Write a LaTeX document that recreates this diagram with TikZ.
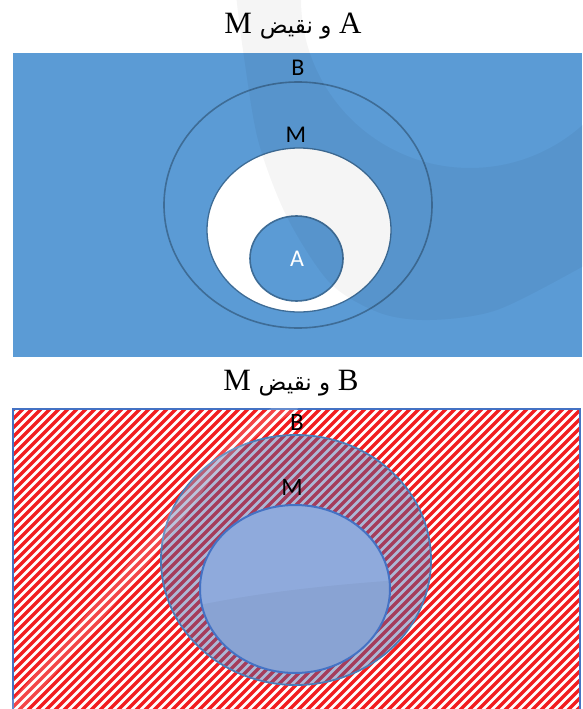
\documentclass[tikz,border=0pt]{standalone}
\usepackage{fontspec}
\setmainfont{Liberation Serif}
\newfontfamily\arabicfont[Script=Arabic]{DejaVu Sans}
\newfontfamily\labelfont{Carlito}
\TeXXeTstate=1
\definecolor{topblue}{RGB}{91,155,213}
\definecolor{tborder}{RGB}{62,108,150}
\definecolor{bborder}{RGB}{68,114,196}
\definecolor{bcircle}{RGB}{74,124,184}
\definecolor{bover}{RGB}{72,98,165}
\definecolor{mfill}{RGB}{143,170,220}
\definecolor{stripered}{RGB}{242,30,32}
\begin{document}
\begin{tikzpicture}[x=1pt,y=-1pt,
  lab/.style={font=\labelfont\fontsize{24}{28}\selectfont, inner sep=0pt},
  blab/.style={font=\labelfont\fontsize{25}{29}\selectfont, inner sep=0pt},
  ttl/.style={font=\fontsize{31}{36}\selectfont, inner sep=0pt, anchor=base},
  tline/.style={draw=tborder, line width=1.6pt},
  stripe/.style={draw=stripered, line width=3.3pt},
]
\useasboundingbox (0,0) rectangle (582,709);
\fill[white] (0,0) rectangle (582,709);

% ---------- top panel ----------
\fill[topblue] (13,53) rectangle (582,357);
\draw[tline] (298,205) ellipse [x radius=134, y radius=123];
\filldraw[fill=white, tline, line width=1.3pt] (299,230) ellipse [x radius=92, y radius=82];
\filldraw[fill=topblue, tline] (296.5,258.5) ellipse [x radius=46.5, y radius=42.5];
\node[lab] (Bt) at (298,68) {B};
\node[lab] (Mt) at (296,135) {M};
\node[lab, text=white] (At) at (297,259) {A};
% watermark ring
\fill[black, opacity=0.04, even odd rule]
  plot[smooth] coordinates {(236,-5) (243,50) (258,140) (287,217) (330,283) (380,313) (430,320) (497,310) (582,267) (600,255)}
  -- (600,-5) -- cycle
  (470,-1) circle [radius=169];
\node[ttl] (t1) at (293,34) {\beginR{A} {\arabicfont\fontsize{23}{27}\selectfont و نقيض} {M}\endR};

% ---------- bottom panel ----------
\begin{scope}
  \clip (13,409) rectangle (580,712);
  \foreach \c in {-310,-301,...,600} \draw[stripe] (\c,715) -- ++(430,-430);
\end{scope}
\draw[draw=bborder, line width=1.6pt] (13,712) -- (13,409) -- (580,409) -- (580,712);
\filldraw[fill=bover, fill opacity=0.45, draw=bcircle, line width=1.8pt] (296,560) ellipse [x radius=135, y radius=125];
\fill[mfill] (295,589) ellipse [x radius=95, y radius=84];
\begin{scope}
  \clip (295,589) ellipse [x radius=95, y radius=84];
  \fill[black, opacity=0.04] (190,607) .. controls (260,592) and (330,585) .. (400,580) -- (400,690) -- (190,690) -- cycle;
\end{scope}
\draw[draw=bborder, line width=2pt] (295,589) ellipse [x radius=95, y radius=84];
\draw[white, opacity=0.18, line width=15pt, line cap=round]
  plot[smooth] coordinates {(12,712) (100,610) (173,520) (208,472) (250,432) (292,404)};
\node[blab] (Bb) at (297,422) {B};
\node[blab] (Mb) at (292,487) {M};
\node[ttl] (t2) at (291,390) {\beginR{B} {\arabicfont\fontsize{23}{27}\selectfont و نقيض} {M}\endR};
\end{tikzpicture}
\end{document}
